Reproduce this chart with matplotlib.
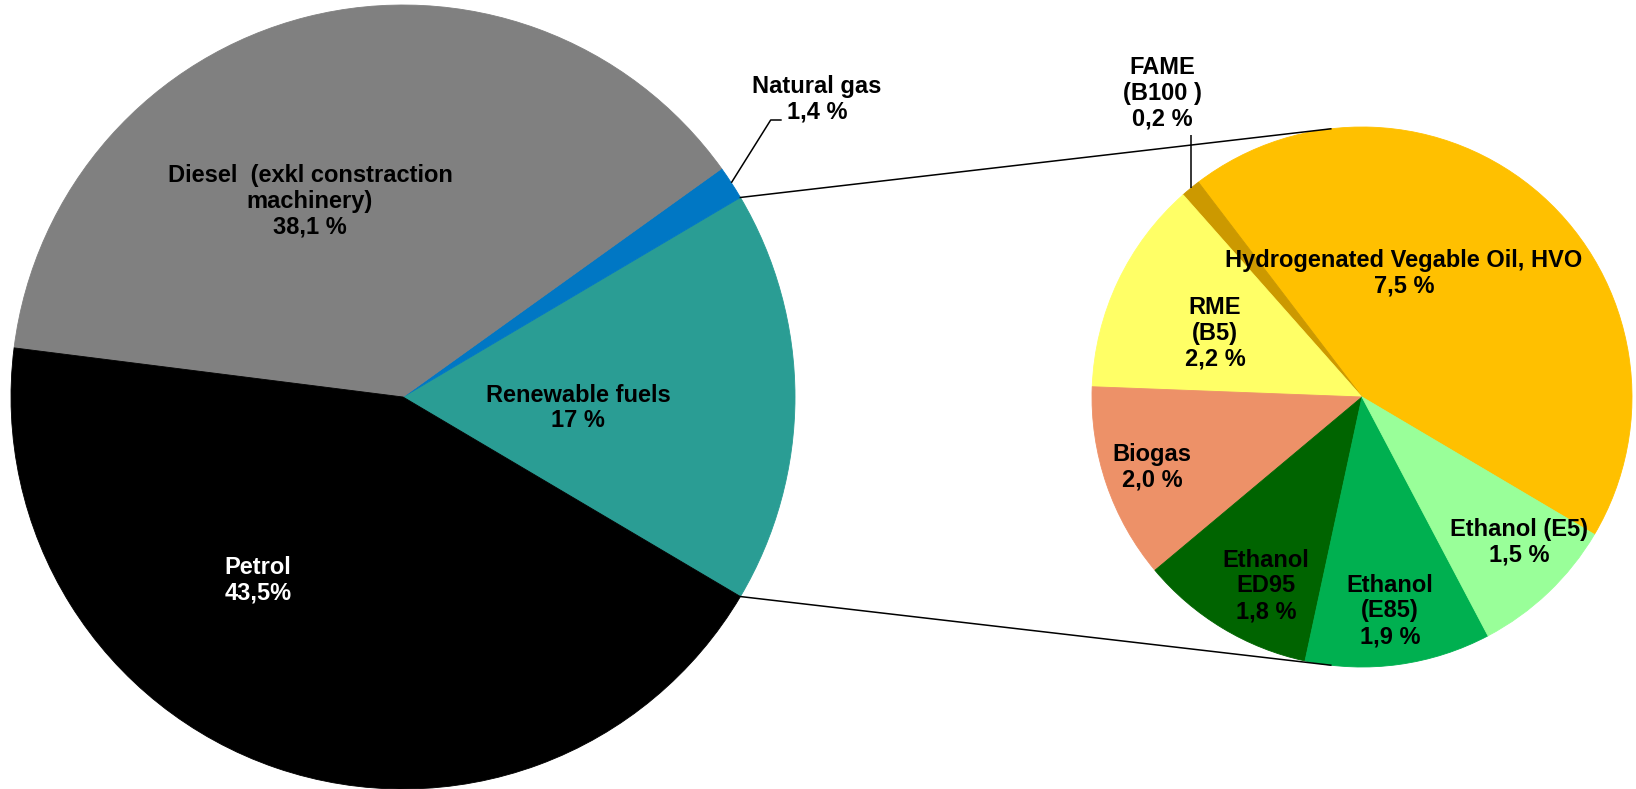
import numpy as np
import matplotlib
matplotlib.use("Agg")
import matplotlib.pyplot as plt

# ---------------- data ----------------
main_names = ["Renewable fuels", "Natural gas", "Diesel  (exkl constraction\nmachinery)", "Petrol"]
main_values = [17.0, 1.4, 38.1, 43.5]
main_pct = ["17 %", "1,4 %", "38,1 %", "43,5%"]
main_colors = ["#2A9D94", "#0077C4", "#808080", "#000000"]

sub_names = ["Hydrogenated Vegable Oil, HVO", "FAME\n(B100 )", "RME\n(B5)", "Biogas",
             "Ethanol\nED95", "Ethanol\n(E85)", "Ethanol (E5)"]
sub_values = [7.5, 0.2, 2.2, 2.0, 1.8, 1.9, 1.5]
sub_pct = ["7,5 %", "0,2 %", "2,2 %", "2,0 %", "1,8 %", "1,9 %", "1,5 %"]
sub_colors = ["#FFC000", "#CC9900", "#FFFF66", "#ED9168", "#006400", "#00B050", "#99FF99"]

# ---------------- layout ----------------
W, H = 1636, 789
fig = plt.figure(figsize=(W / 100, H / 100), dpi=100)
ax = fig.add_axes([0, 0, 1, 1])

C1, R1 = (403.0, 392.0), 392.0
C2, R2 = (1362.0, 392.0), 270.0
start = -main_values[0] / sum(main_values) * 360 / 2

w1, _ = ax.pie(main_values, colors=main_colors, startangle=start, counterclock=True,
               center=C1, radius=R1, wedgeprops=dict(linewidth=0.6))
w2, _ = ax.pie(sub_values, colors=sub_colors, startangle=start, counterclock=True,
               center=C2, radius=R2, wedgeprops=dict(linewidth=0.6))
for w in list(w1) + list(w2):
    w.set_edgecolor(w.get_facecolor())

ax.set_xlim(0, W)
ax.set_ylim(0, H)
ax.set_aspect("equal")
ax.axis("off")

FONT = dict(family=["Liberation Sans", "DejaVu Sans"], fontsize=17, fontweight="bold",
            ha="center", va="center", linespacing=1.15)

# main labels
main_pos = [(578, 381), (817, 690), (310, 588), (258, 209)]
main_txtcol = ["#000000", "#000000", "#000000", "#FFFFFF"]
for name, pct, (x, y), c in zip(main_names, main_pct, main_pos, main_txtcol):
    ax.text(x, y, f"{name}\n{pct}", color=c, **FONT)

# sub labels
sub_pos = [(1404, 516), (1162, 696), (1215, 456), (1152, 322), (1266, 203), (1390, 178), (1519, 247)]
for name, pct, (x, y) in zip(sub_names, sub_pct, sub_pos):
    ax.text(x, y, f"{name}\n{pct}", color="#000000", **FONT)

# leader line for natural gas
ng = w1[1]
a = np.deg2rad((ng.theta1 + ng.theta2) / 2)
p = (C1[0] + R1 * np.cos(a), C1[1] + R1 * np.sin(a))
ax.plot([p[0], 770.7, 781.7], [p[1], 669, 669], color="black", lw=1.1, solid_capstyle="butt")

# leader line for FAME
fm = w2[1]
a = np.deg2rad((fm.theta1 + fm.theta2) / 2)
p = (C2[0] + R2 * np.cos(a), C2[1] + R2 * np.sin(a))
ax.plot([p[0], p[0]], [p[1], 654], color="black", lw=1.1, solid_capstyle="butt")

# connector lines (tangent from renewable wedge edges to second pie)
rw = w1[0]
for theta, sign in [(rw.theta2, -1), (rw.theta1, +1)]:
    t = np.deg2rad(theta)
    P = np.array([C1[0] + R1 * np.cos(t), C1[1] + R1 * np.sin(t)])
    v = P - np.array(C2)
    d = np.hypot(*v)
    phi = np.arctan2(v[1], v[0])
    alpha = np.arccos(R2 / d)
    tt = phi + sign * alpha
    T = np.array([C2[0] + R2 * np.cos(tt), C2[1] + R2 * np.sin(tt)])
    ax.plot([P[0], T[0]], [P[1], T[1]], color="black", lw=1.1)

fig.savefig("out.png", dpi=100)
